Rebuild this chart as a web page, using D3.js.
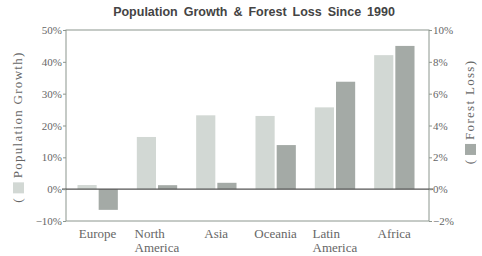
<!DOCTYPE html>
<html>
<head>
<meta charset="utf-8">
<script src="https://cdn.jsdelivr.net/npm/d3@7"></script>
<style>
  body { margin: 0; background: #fff; }
  svg { display: block; }
  .tick text, .cat { font-family: "Liberation Serif", "DejaVu Serif", serif; fill: #666; }
</style>
</head>
<body>
<script>
const regions = ["Europe", "North\nAmerica", "Asia", "Oceania", "Latin\nAmerica", "Africa"]
const popGrowth = [1.3, 16.4, 23.2, 23, 25.7, 42.1]
const forestLoss = [-1.3, 0.25, 0.4, 2.77, 6.75, 9.0]
const leftTicks = [-10, 0, 10, 20, 30, 40, 50]
const rightTicks = [-2, 0, 2, 4, 6, 8, 10]

const width = 482, height = 256
const plot = { left: 66, right: 429, top: 30, bottom: 221 }
const lightCol = "#d2d8d4", darkCol = "#a4aaa6", frameCol = "#8c968e"

const svg = d3.select("body").append("svg")
    .attr("width", width).attr("height", height)

const x = d3.scaleBand().domain(regions).range([68, 424]).paddingInner(0.32).paddingOuter(0.16)
const yL = d3.scaleLinear().domain([-10, 50]).range([plot.bottom, plot.top])
const yR = d3.scaleLinear().domain([-2, 10]).range([plot.bottom, plot.top])

const fmt = d => (d < 0 ? "\u2212" : "") + Math.abs(d) + "%"

// bars
const half = x.bandwidth() / 2
svg.append("g").selectAll("rect")
    .data(regions).enter()
    .append("rect")
    .attr("x", d => x(d))
    .attr("width", half - 1)
    .attr("y", (d, i) => Math.min(yL(popGrowth[i]), yL(0)))
    .attr("height", (d, i) => Math.abs(yL(popGrowth[i]) - yL(0)))
    .attr("fill", lightCol)

svg.append("g").selectAll("rect")
    .data(regions).enter()
    .append("rect")
    .attr("x", d => x(d) + half + 1)
    .attr("width", half - 1)
    .attr("y", (d, i) => Math.min(yR(forestLoss[i]), yR(0)))
    .attr("height", (d, i) => Math.abs(yR(forestLoss[i]) - yR(0)))
    .attr("fill", darkCol)

// frame
svg.append("rect")
    .attr("x", plot.left).attr("y", plot.top)
    .attr("width", plot.right - plot.left).attr("height", plot.bottom - plot.top)
    .attr("fill", "none").attr("stroke", frameCol).attr("stroke-width", 1)

// zero line
svg.append("line")
    .attr("x1", plot.left - 4).attr("x2", plot.right + 4)
    .attr("y1", yL(0)).attr("y2", yL(0))
    .attr("stroke", "#555").attr("stroke-width", 1.2)

// axes
const leftAxis = svg.append("g")
    .attr("transform", `translate(${plot.left},0)`)
    .call(d3.axisLeft(yL).tickValues(leftTicks).tickFormat(fmt).tickSize(3).tickPadding(1))
const rightAxis = svg.append("g")
    .attr("transform", `translate(${plot.right},0)`)
    .call(d3.axisRight(yR).tickValues(rightTicks).tickFormat(fmt).tickSize(3).tickPadding(1))
for (const ax of [leftAxis, rightAxis]) {
    ax.select(".domain").remove()
    ax.selectAll(".tick line").attr("stroke", frameCol)
    ax.selectAll(".tick text").style("font-size", "11px")
}

// category labels
regions.forEach(r => {
    const lines = r.split("\n")
    const t = svg.append("text").attr("class", "cat")
        .style("font-size", "13px")
        .attr("y", 238)
    lines.forEach((ln, i) => {
        t.append("tspan").attr("x", 0).attr("dy", i ? 14 : 0).text(ln)
    })
    const w = t.node().getBBox().width
    const cx = x(r) + x.bandwidth() / 2
    t.selectAll("tspan").attr("x", cx - w / 2)
})

// title
svg.append("text")
    .attr("x", 254).attr("y", 16)
    .attr("text-anchor", "middle")
    .style("font-family", "Liberation Sans, Arial, sans-serif")
    .style("font-size", "12.5px").style("font-weight", "bold")
    .style("word-spacing", "2.5px")
    .attr("fill", "#444")
    .text("Population Growth & Forest Loss Since 1990")

// rotated axis titles with colour swatch
function axisTitle(cx, cy, label, col) {
    const g = svg.append("g").attr("transform", `translate(${cx},${cy}) rotate(-90)`)
    const t = g.append("text")
        .style("font-family", "Liberation Serif, DejaVu Serif, serif")
        .style("font-size", "13px").attr("fill", "#666")
        .attr("y", 4)
    t.append("tspan").text("(")
    t.append("tspan").attr("dx", 20).style("letter-spacing", "1.3px").text(label + ")")
    const w = t.node().getBBox().width
    t.attr("x", -w / 2)
    t.selectAll("tspan").filter((d, i) => i === 0).attr("x", -w / 2)
    const openW = t.select("tspan").node().getComputedTextLength()
    g.append("rect")
        .attr("x", -w / 2 + openW + 5).attr("y", -5)
        .attr("width", 11).attr("height", 11)
        .attr("fill", col)
}
axisTitle(18, 127, "Population  Growth", lightCol)
axisTitle(470, 112, "Forest  Loss", darkCol)
</script>
</body>
</html>
